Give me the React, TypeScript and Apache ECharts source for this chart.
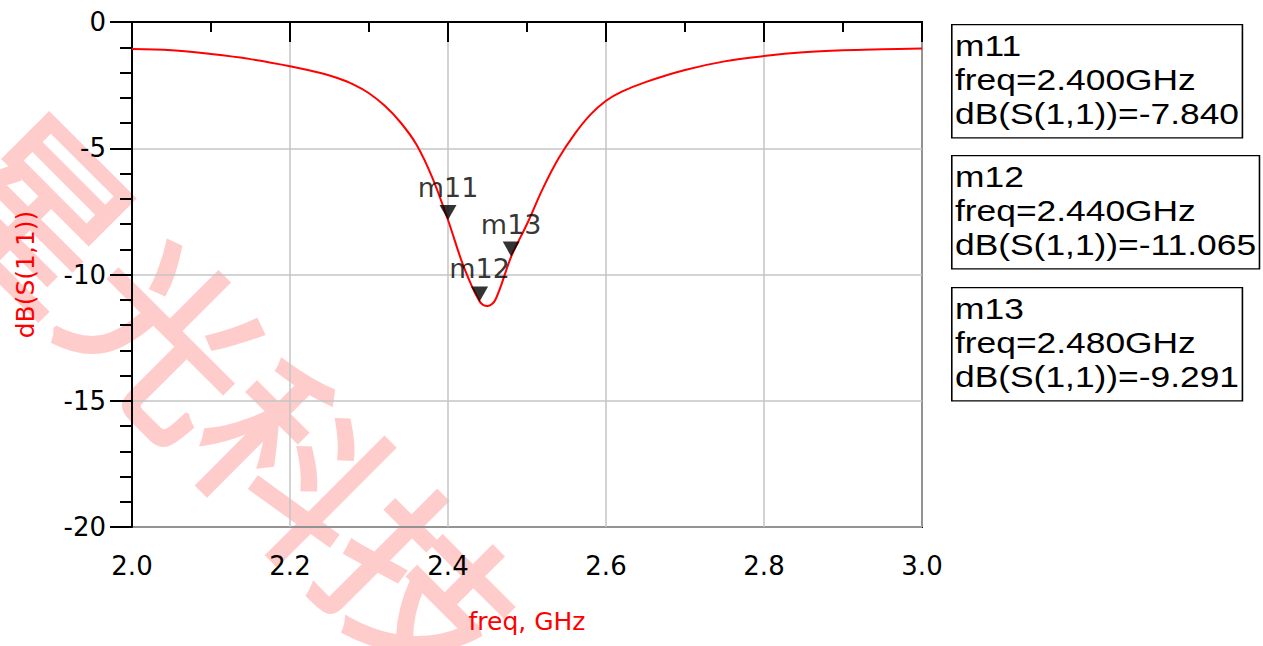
import React, { useEffect, useRef } from "react";
import * as echarts from "echarts";

const freqGHz = [2.0, 2.05, 2.1, 2.15, 2.2, 2.24, 2.26, 2.28, 2.3, 2.32, 2.34, 2.36, 2.38, 2.4, 2.42, 2.44, 2.45, 2.46, 2.48, 2.5, 2.52, 2.54, 2.56, 2.58, 2.6, 2.62, 2.65, 2.7, 2.75, 2.8, 2.85, 2.9, 2.95, 3.0];
const s11dB = [-1.07, -1.12, -1.27, -1.47, -1.75, -2.03, -2.22, -2.47, -2.82, -3.32, -3.98, -4.85, -6.15, -7.84, -9.7, -11.065, -11.25, -11.0, -9.291, -8.0, -6.6, -5.4, -4.45, -3.68, -3.12, -2.76, -2.38, -1.9, -1.56, -1.35, -1.2, -1.12, -1.08, -1.05];

const markerNames = ["m11", "m12", "m13"];
const markerFreq = [2.4, 2.44, 2.48];
const markerDb = [-7.84, -11.065, -9.291];

const xTicks = { min: 2.0, max: 3.0, step: 0.2 };
const yTicks = { min: -20, max: 0, step: 5 };

const watermarkText = "星光科技";

export default function App() {
  const ref = useRef<HTMLDivElement>(null);
  useEffect(() => {
    if (!ref.current) return;
    const chart = echarts.init(ref.current, undefined, { renderer: "svg" });
    const lineData = freqGHz.map((f, i) => [f, s11dB[i]]);
    const markData = markerNames.map((n, i) => ({ name: n, value: [markerFreq[i], markerDb[i]] }));
    const boxTops = [24, 155, 287];
    const boxes = markerNames.map((n, i) => ({
      type: "text",
      left: 951,
      top: boxTops[i],
      scaleX: 1.22,
      z: 50,
      style: {
        text: `${n}\nfreq=${markerFreq[i].toFixed(3)}GHz\ndB(S(1,1))=${markerDb[i].toFixed(3)}`,
        fontFamily: "'Liberation Sans', Arial, sans-serif",
        fontSize: 29,
        lineHeight: 34,
        fill: "#000",
        backgroundColor: "#fff",
        borderColor: "#000",
        borderWidth: 1.3,
        padding: [4, 2, 6, 2],
      },
    }));
    const axisFont = "'DejaVu Sans', sans-serif";
    chart.setOption({
      animation: false,
      backgroundColor: "#fff",
      grid: { left: 132, right: 341, top: 22, bottom: 119, show: true, borderColor: "#000", borderWidth: 2 },
      xAxis: {
        type: "value",
        min: xTicks.min,
        max: xTicks.max,
        interval: xTicks.step,
        name: "freq, GHz",
        nameLocation: "middle",
        nameGap: 82,
        nameTextStyle: { color: "#ff0000", fontSize: 25, fontFamily: axisFont },
        axisLine: { lineStyle: { color: "#000", width: 2 } },
        axisTick: { length: 20, lineStyle: { color: "#000", width: 2 } },
        minorTick: { show: true, splitNumber: 2, length: 10, lineStyle: { color: "#000", width: 2 } },
        splitLine: { show: true, lineStyle: { color: "#c4c4c4", width: 1.5 } },
        axisLabel: { color: "#000", fontSize: 26, fontFamily: axisFont, margin: 26, formatter: (v: number) => v.toFixed(1) },
      },
      yAxis: {
        type: "value",
        min: yTicks.min,
        max: yTicks.max,
        interval: yTicks.step,
        name: "dB(S(1,1))",
        nameLocation: "middle",
        nameGap: 94,
        nameTextStyle: { color: "#ff0000", fontSize: 25, fontFamily: axisFont },
        axisLine: { lineStyle: { color: "#000", width: 2 } },
        axisTick: { length: 22, lineStyle: { color: "#000", width: 2 } },
        minorTick: { show: true, splitNumber: 5, length: 12, lineStyle: { color: "#000", width: 2 } },
        splitLine: { show: true, lineStyle: { color: "#c4c4c4", width: 1.5 } },
        axisLabel: { color: "#000", fontSize: 26, fontFamily: axisFont, margin: 26 },
      },
      series: [
        {
          type: "line",
          data: lineData,
          showSymbol: false,
          smooth: 0.35,
          lineStyle: { color: "#ff0000", width: 2 },
          itemStyle: { color: "#ff0000" },
          z: 3,
        },
        {
          type: "scatter",
          data: markData,
          symbol: "triangle",
          symbolRotate: 180,
          symbolSize: [17, 15],
          symbolOffset: [0, -7.5],
          itemStyle: { color: "#000" },
          label: {
            show: true,
            position: "top",
            distance: 4,
            formatter: (p: any) => p.name,
            color: "#000",
            fontSize: 27,
            fontFamily: axisFont,
          },
          z: 4,
        },
      ],
      graphic: [
        ...boxes,
        {
          type: "text",
          x: 236,
          y: 393,
          rotation: -Math.PI / 4,
          z: -10,
          silent: true,
          style: {
            text: watermarkText,
            fontFamily: "'Noto Sans CJK SC', sans-serif",
            fontSize: 180,
            fill: "#ffcccc",
            stroke: "#ffcccc",
            lineWidth: 4,
            align: "center",
            verticalAlign: "middle",
          },
        },
      ],
    });
    return () => chart.dispose();
  }, []);
  return <div ref={ref} style={{ position: "fixed", left: 0, top: 0, width: 1263, height: 646 }} />;
}
